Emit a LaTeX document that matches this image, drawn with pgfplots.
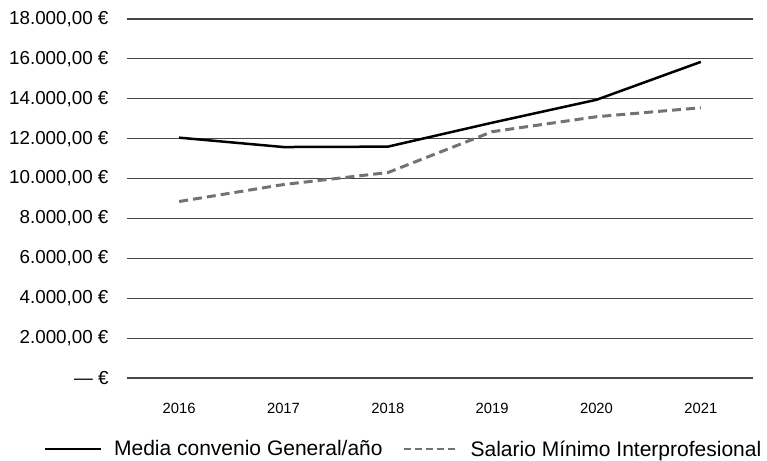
\documentclass[border=0pt]{standalone}
\usepackage{fontspec}
\setmainfont{Liberation Sans}
\usepackage{pgfplots}
\pgfplotsset{compat=1.18}
\definecolor{gridc}{RGB}{70,70,70}
\definecolor{smi}{RGB}{115,115,115}

\begin{document}
\begin{tikzpicture}
\useasboundingbox (0,0) rectangle (767bp,461bp);
\begin{axis}[
  at={(127bp,83bp)}, anchor=south west,
  scale only axis,
  width=626bp, height=359bp,
  xmin=-0.5, xmax=5.5,
  ymin=0, ymax=18000,
  scaled y ticks=false,
  axis line style={draw=none},
  major tick length=0pt,
  xtick={0,1,2,3,4,5},
  xticklabels={2016,2017,2018,2019,2020,2021},
  ytick={0,2000,4000,6000,8000,10000,12000,14000,16000,18000},
  yticklabels={— €,{2.000,00 €},{4.000,00 €},{6.000,00 €},{8.000,00 €},{10.000,00 €},{12.000,00 €},{14.000,00 €},{16.000,00 €},{18.000,00 €}},
  ymajorgrids,
  major grid style={gridc, line width=1.2bp},
  yticklabel style={font=\fontsize{18.8bp}{20bp}\selectfont, anchor=east, xshift=-15bp},
  xticklabel style={font=\fontsize{14.8bp}{16bp}\selectfont, yshift=-22bp},
  legend columns=2,
  legend style={draw=none, fill=none, at={(0.442,-0.198)}, anchor=center,
    font=\fontsize{21bp}{24bp}\selectfont,
    /tikz/every odd column/.append style={column sep=10bp},
    /tikz/every even column/.append style={column sep=18bp}},
  legend cell align=left,
]
\addplot[black, line width=2.5bp, legend image code/.code={\draw[black, line width=2bp] (0,0) -- (56bp,0);}]
  coordinates {(0,12050) (1,11580) (2,11600) (3,12800) (4,13950) (5,15850)};
\addlegendentry{Media convenio General/año}
\addplot[smi, line width=3bp, dash pattern=on 9bp off 5bp, legend image code/.code={\draw[smi, line width=2bp, dash pattern=on 7bp off 4bp] (0,0) -- (54bp,0);}]
  coordinates {(0,8850) (1,9700) (2,10300) (3,12350) (4,13100) (5,13550)};
\addlegendentry{Salario Mínimo Interprofesional}
\end{axis}
\end{tikzpicture}
\end{document}
